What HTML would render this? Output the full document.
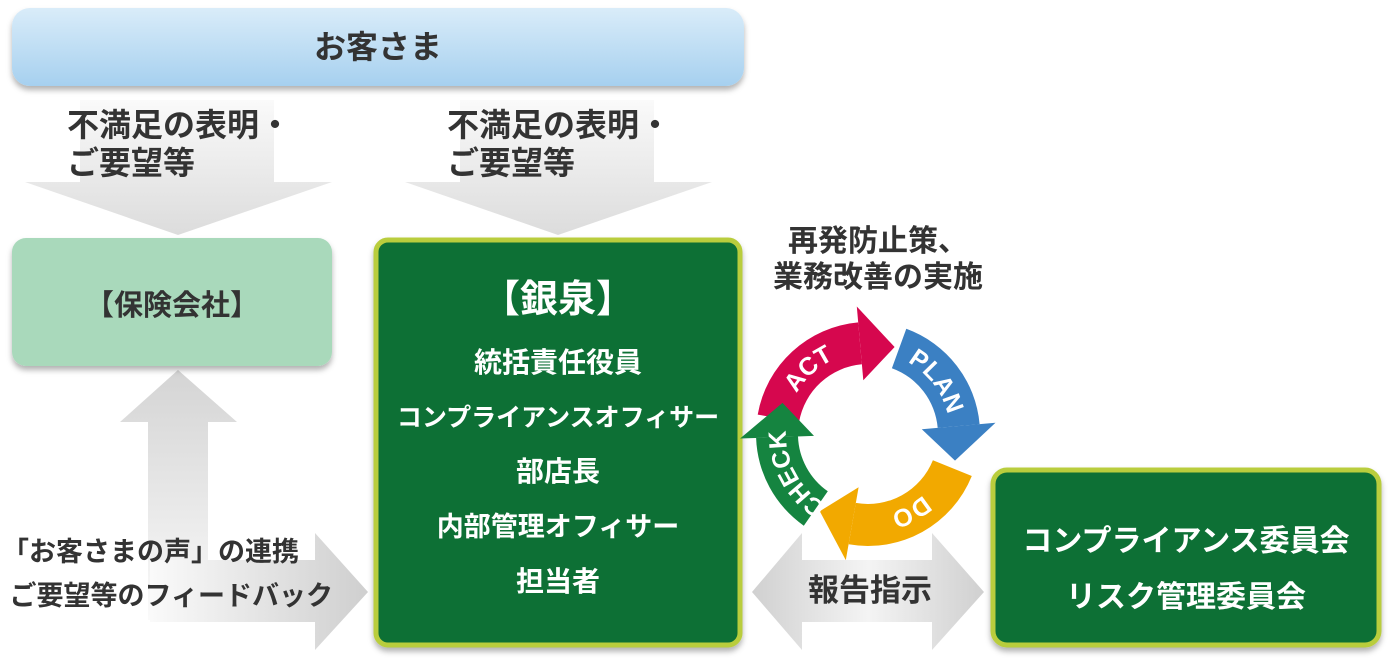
<!DOCTYPE html>
<html><head><meta charset="utf-8"><style>
body{margin:0;width:1394px;height:666px;background:#fff;overflow:hidden;position:relative;font-family:"Liberation Sans","Noto Sans CJK JP",sans-serif;}
.abs{position:absolute}
.t{position:absolute;white-space:nowrap;font-weight:bold;}
</style></head><body>
<svg class="abs" style="left:0;top:0" width="1394" height="666" id="s">
<defs>
<linearGradient id="gb" x1="0" y1="0" x2="0" y2="1"><stop offset="0" stop-color="#d9ecf9"/><stop offset="1" stop-color="#a6d0ef"/></linearGradient>
<linearGradient id="ga" x1="0" y1="0" x2="0" y2="1"><stop offset="0" stop-color="#fafafa"/><stop offset="1" stop-color="#dcdcdc"/></linearGradient>
<linearGradient id="gu" x1="0" y1="1" x2="0" y2="0"><stop offset="0" stop-color="#fafafa"/><stop offset="1" stop-color="#d4d4d4"/></linearGradient>
<linearGradient id="gr" x1="0" y1="0" x2="1" y2="0"><stop offset="0" stop-color="#fafafa"/><stop offset="1" stop-color="#cfcfcf"/></linearGradient>
<linearGradient id="gd" x1="0" y1="0" x2="1" y2="0"><stop offset="0" stop-color="#d0d0d0"/><stop offset="0.5" stop-color="#f4f4f4"/><stop offset="1" stop-color="#d0d0d0"/></linearGradient>
<filter id="sh" x="-10%" y="-10%" width="120%" height="130%"><feDropShadow dx="0" dy="4" stdDeviation="3" flood-opacity="0.3"/></filter>
</defs>
<polygon points="80,100 274,100 274,182 332,182 178,235 25,182 80,182" fill="url(#ga)"/>
<polygon points="460,100 654,100 654,182 712,182 558,235 405,182 460,182" fill="url(#ga)"/>
<polygon points="148,620 208,620 208,422 237,422 178,370 120,422 148,422" fill="url(#gu)"/>
<polygon points="150,560 315,560 315,533 368,592 315,650 315,622 150,622" fill="url(#gr)"/>
<polygon points="752,592 802,533 802,560 932,560 932,533 984,592 932,650 932,622 802,622 802,650" fill="url(#gd)"/>
<rect x="12" y="8" width="732" height="78" rx="18" fill="url(#gb)" filter="url(#sh)"/>
<rect x="12" y="238" width="320" height="128" rx="14" fill="#a9d9bb" filter="url(#sh)"/>
<rect x="376" y="240" width="364" height="405" rx="12" fill="#0d6f36" stroke="#b9cd3c" stroke-width="5" filter="url(#sh)"/>
<rect x="993" y="470" width="386" height="175" rx="14" fill="#0d6f36" stroke="#b9cd3c" stroke-width="5" filter="url(#sh)"/>
<g id="cyc"></g>
</svg>
<div class="t" style="left:0;width:756px;top:28px;text-align:center;font-size:32px;line-height:38px;color:#333">お客さま</div>
<div class="t" style="left:67px;top:106px;font-size:32px;line-height:38px;color:#333">不満足の表明・<br>ご要望等</div>
<div class="t" style="left:447px;top:106px;font-size:32px;line-height:38px;color:#333">不満足の表明・<br>ご要望等</div>
<div class="t" style="left:12px;width:320px;top:282px;text-align:center;font-size:29px;color:#333">【保険会社】</div>
<div class="t" style="left:376px;width:364px;top:278px;text-align:center;font-size:38px;line-height:44px;color:#fff">【銀泉】</div>
<div class="t" style="left:376px;width:364px;top:336px;text-align:center;font-size:25px;line-height:54px;color:#fff"><span style="font-size:28px">統括責任役員</span><br>コンプライアンスオフィサー<br><span style="font-size:28px">部店長</span><br><span style="font-size:27px">内部管理オフィサー</span><br><span style="font-size:28px">担当者</span></div>
<div class="t" style="left:758px;width:240px;top:224px;font-size:30px;line-height:36px;color:#333;text-align:center">再発防止策、<br>業務改善の実施</div>
<div class="t" style="left:2px;top:530px;font-size:27px;line-height:44px;color:#333">「お客さまの声」の連携<br>&nbsp;ご要望等のフィードバック</div>
<div class="t" style="left:790px;width:160px;top:572px;text-align:center;font-size:31px;line-height:38px;color:#333">報告指示</div>
<div class="t" style="left:993px;width:386px;top:514px;text-align:center;font-size:30px;line-height:56px;color:#fff">コンプライアンス委員会<br>リスク管理委員会</div>
<script>
(function(){
var cx=868,cy=434,ri=70,ro=112,rm=91,g=document.getElementById('cyc'),NS='http://www.w3.org/2000/svg';
function P(r,a){a=a*Math.PI/180;return [(cx+r*Math.cos(a)).toFixed(1),(cy+r*Math.sin(a)).toFixed(1)];}
function seg(a0,a1,col,lbl){
 var o0=P(ro,a0),o1=P(ro,a1),i1=P(ri,a1),i0=P(ri,a0);
 var p=document.createElementNS(NS,'path');
 p.setAttribute('d','M'+o0+' A'+ro+','+ro+' 0 0 1 '+o1+' L'+i1+' A'+ri+','+ri+' 0 0 0 '+i0+'Z');
 p.setAttribute('fill',col);g.appendChild(p);
 var b1=P(ro+16,a1),b2=P(ri-16,a1),tp=P(rm,a1+22);
 var h=document.createElementNS(NS,'polygon');
 h.setAttribute('points',b1.join(',')+' '+b2.join(',')+' '+tp.join(','));h.setAttribute('fill',col);g.appendChild(h);
 var id='pp'+a0;var pa=document.createElementNS(NS,'path');pa.setAttribute('id',id);
 var r=rm-9;var s=P(r,a0),e=P(r,a1);pa.setAttribute('d','M'+s+' A'+r+','+r+' 0 0 1 '+e);
 pa.setAttribute('fill','none');g.appendChild(pa);
 var t=document.createElementNS(NS,'text');t.setAttribute('fill','#fff');t.setAttribute('font-size','25');t.setAttribute('font-weight','bold');t.setAttribute('font-family','Liberation Sans, sans-serif');
 var tpth=document.createElementNS(NS,'textPath');tpth.setAttribute('href','#'+id);tpth.setAttribute('startOffset','50%');tpth.setAttribute('text-anchor','middle');tpth.textContent=lbl;t.appendChild(tpth);g.appendChild(t);
}
seg(190,265,'#d6074e','ACT');
seg(290,355,'#3b80c3','PLAN');
seg(22,100,'#f2a900','DO');
seg(125,178,'#158440','CHECK');
})();
</script>
</body></html>
